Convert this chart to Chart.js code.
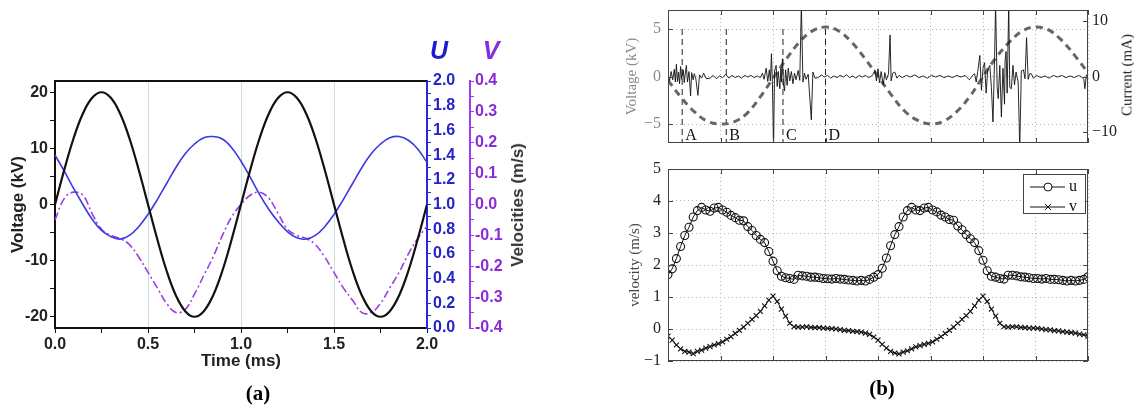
<!DOCTYPE html>
<html>
<head>
<meta charset="utf-8">
<script src="https://cdn.jsdelivr.net/npm/chart.js@4/dist/chart.umd.min.js"></script>
<style>
  body { margin: 0; background: #fff; width: 1134px; height: 409px; position: relative; overflow: hidden; }
  .box { position: absolute; }
  .box canvas { display: block; }
  .txt { position: absolute; white-space: nowrap; transform: translate(-50%, -50%); }
  .rot { transform: translate(-50%, -50%) rotate(-90deg); }
</style>
</head>
<body>
<div class="box" style="left:0;top:0"><canvas id="chartA" width="560" height="409"></canvas></div>
<div class="box" style="left:620px;top:-20px"><canvas id="chartTop" width="514" height="190"></canvas></div>
<div class="box" style="left:620px;top:150px"><canvas id="chartBottom" width="514" height="259"></canvas></div>

<div class="txt" style="left:439px;top:50px;font:italic bold 25px 'Liberation Sans',Arial,sans-serif;color:#1c1cd0">U</div>
<div class="txt" style="left:491px;top:50px;font:italic bold 25px 'Liberation Sans',Arial,sans-serif;color:#8a2be0">V</div>
<div class="txt rot" style="left:518px;top:205px;font:bold 17px 'Liberation Sans',Arial,sans-serif;color:#333">Velocities (m/s)</div>
<div class="txt" style="left:258px;top:393px;font:bold 21px 'Liberation Serif','Times New Roman',serif;color:#000">(a)</div>
<div class="txt" style="left:882px;top:388px;font:bold 21px 'Liberation Serif','Times New Roman',serif;color:#000">(b)</div>
<div class="txt rot" style="left:1127px;top:75px;font:15px 'Liberation Serif','Times New Roman',serif;color:#222">Current (mA)</div>

<script>
// ---------- panel (a): one sample every 0.05 ms, 0 .. 2 ms ----------
const stepA = 0.05;
const voltA = [0, 6.2, 11.8, 16.2, 19.0, 20.0, 19.0, 16.2, 11.8, 6.2,
  0, -6.2, -11.8, -16.2, -19.0, -20.0, -19.0, -16.2, -11.8, -6.2,
  0, 6.2, 11.8, 16.2, 19.0, 20.0, 19.0, 16.2, 11.8, 6.2,
  0, -6.2, -11.8, -16.2, -19.0, -20.0, -19.0, -16.2, -11.8, -6.2, 0];
const uA = [1.40, 1.27, 1.13, 1.00, 0.88, 0.79, 0.74, 0.72, 0.75, 0.82,
  0.92, 1.04, 1.17, 1.30, 1.41, 1.49, 1.54, 1.55, 1.53, 1.46,
  1.35, 1.22, 1.08, 0.96, 0.86, 0.78, 0.73, 0.72, 0.75, 0.82,
  0.92, 1.04, 1.17, 1.30, 1.41, 1.49, 1.54, 1.55, 1.52, 1.45, 1.34];
const vA = [-0.05, 0.02, 0.04, 0.03, -0.03, -0.08, -0.10, -0.11, -0.13, -0.17,
  -0.22, -0.27, -0.32, -0.35, -0.34, -0.29, -0.23, -0.17, -0.10, -0.04,
  0.00, 0.03, 0.04, 0.02, -0.03, -0.08, -0.10, -0.11, -0.13, -0.17,
  -0.22, -0.27, -0.31, -0.35, -0.35, -0.32, -0.27, -0.22, -0.16, -0.11, -0.07];
const timeTicksA = [0, 0.25, 0.5, 0.75, 1, 1.25, 1.5, 1.75, 2];
const voltTicksA = [-20, -15, -10, -5, 0, 5, 10, 15, 20];
const uTicks = [0, 0.1, 0.2, 0.3, 0.4, 0.5, 0.6, 0.7, 0.8, 0.9, 1.0, 1.1, 1.2, 1.3, 1.4, 1.5, 1.6, 1.7, 1.8, 1.9, 2.0];
const vTicks = [-0.4, -0.35, -0.3, -0.25, -0.2, -0.15, -0.1, -0.05, 0, 0.05, 0.1, 0.15, 0.2, 0.25, 0.3, 0.35, 0.4];

// ---------- panel (b) top: time in grid divisions 0 .. 8 ----------
const stepVolt = 0.25;
const voltB = [-0.4, -2.2, -3.7, -4.7, -5.0, -4.8, -3.9, -2.2, -0.2, 1.8, 3.6, 4.8, 5.2, 4.8, 3.6, 1.9,
  0.0, -1.9, -3.6, -4.6, -5.0, -4.7, -3.7, -2.1, 0.0, 2.0, 3.6, 4.8, 5.2, 4.9, 3.8, 2.2, 0.4];
const currT = [0.00, 0.03, 0.06, 0.09, 0.12, 0.14, 0.16, 0.18, 0.20, 0.22, 0.24, 0.26, 0.29, 0.31, 0.33, 0.35, 0.37, 0.40, 0.43, 0.45, 0.48, 0.50, 0.53, 0.57, 0.60, 0.64, 0.68, 0.73,
  0.80, 0.86, 0.92, 0.98, 1.04, 1.10, 1.16, 1.22, 1.28, 1.34, 1.40, 1.46, 1.52, 1.58, 1.64, 1.70, 1.76,
  1.80, 1.83, 1.87, 1.90, 1.93, 1.95, 1.97, 1.99, 2.01, 2.03, 2.06, 2.08, 2.10, 2.13, 2.15, 2.16, 2.18, 2.20, 2.22, 2.24, 2.27, 2.29, 2.32, 2.35, 2.38, 2.41, 2.44, 2.48, 2.51, 2.54, 2.57, 2.60, 2.63, 2.67, 2.73, 2.76, 2.80,
  2.86, 2.92, 2.98, 3.04, 3.10, 3.16, 3.22, 3.28, 3.34, 3.40, 3.46, 3.52, 3.58, 3.64, 3.70, 3.76, 3.82, 3.88,
  3.92, 3.94, 3.97, 4.00, 4.03, 4.06, 4.10, 4.13, 4.16, 4.20, 4.23, 4.25, 4.28, 4.32, 4.36, 4.40,
  4.46, 4.54, 4.62, 4.70, 4.78, 4.86, 4.94, 5.02, 5.10, 5.18, 5.26, 5.34, 5.42, 5.50, 5.58, 5.66, 5.74, 5.80,
  5.84, 5.87, 5.90, 5.94, 5.97, 6.00, 6.03, 6.06, 6.09, 6.13, 6.16, 6.19, 6.22, 6.24, 6.27, 6.29, 6.32, 6.35, 6.38, 6.41, 6.42, 6.44, 6.46, 6.49, 6.51, 6.54, 6.57, 6.60, 6.63, 6.67, 6.70, 6.73, 6.77, 6.80, 6.83, 6.86, 6.89, 6.92, 6.96,
  7.02, 7.10, 7.18, 7.26, 7.34, 7.42, 7.50, 7.58, 7.66, 7.74, 7.82, 7.88, 7.92, 7.94, 7.97, 8.00];
const currI = [0.3, -0.8, 0.9, -0.6, 1.3, -1.0, 2.2, -0.9, 0.8, -1.3, 1.8, -0.5, 1.2, -1.1, 0.6, 2.0, -1.0, 0.9, -3.5, 0.7, -0.6, 0.5, -0.4, -3.4, 0.3, -0.3, 0.6, -0.4,
  -0.3, 0.2, -0.4, 0.1, -0.2, 0.4, -0.3, 0.2, -0.2, 0.1, -0.3, 0.2, -0.1, 0.2, -0.2, 0.1, -0.2,
  0.6, -0.5, 1.5, -0.9, 1.2, -0.8, 4.1, -1.5, -13, 1.0, 2.0, -1.8, 0.9, -2.2, 1.4, -1.0, 3.2, -1.5, -2.6, 1.2, -1.6, 1.5, -0.8, 0.9, -1.3, 0.6, -0.6, 1.1, -0.7, 13, -1.0, 0.6, -0.5, 0.4, -7.8, 0.8, -0.3,
  -0.2, 0.3, -0.1, 0.2, -0.3, 0.1, -0.2, 0.2, -0.1, 0.3, -0.2, 0.1, -0.3, 0.2, -0.1, 0.2, -0.2, 0.1,
  0.6, 1.2, -0.8, 1.4, -1.1, 0.9, -1.5, 0.7, -0.6, 0.5, 7.5, -0.8, 0.6, 0.8, -0.3, 0.2,
  -0.2, 0.2, -0.1, 0.3, -0.2, 0.1, -0.3, 0.2, -0.1, 0.2, -0.2, 0.1, -0.2, 0.2, -0.1, 0.2, -0.6, 0.2,
  0.5, -1.0, 0.9, 3.8, -2.5, 1.5, 2.5, -3.0, 1.2, 2.0, -2.0, -8.2, 3.0, 13, -2.0, -4.0, 2.0, -7.3, 1.5, -5.0, 2.8, 4.5, -3.0, 13, -2.0, -2.2, 2.0, -1.5, 0.8, -1.0, -13, 1.0, 1.2, -0.4, 7.0, -0.5, 0.5, 0.5, -0.3,
  0.2, -0.2, 0.1, -0.3, 0.2, -0.1, 0.2, -0.2, 0.1, -0.2, 0.2, -0.1, -0.5, -2.2, 0.3, 0.0];
const markX = [0.27, 1.11, 2.19, 3.00];
const markNames = ['A', 'B', 'C', 'D'];
const divTicks = [0, 1, 2, 3, 4, 5, 6, 7, 8];
const voltTicksB = [-5, 0, 5];
const currTicks = [-10, 0, 10];

// ---------- panel (b) bottom: one sample every 0.08 division ----------
const stepB = 0.08;
const uB = [1.70, 1.88, 2.20, 2.58, 2.92, 3.18, 3.50, 3.70, 3.80, 3.72, 3.68, 3.78, 3.80, 3.72, 3.65, 3.55, 3.48, 3.40, 3.38, 3.20,
  3.08, 2.92, 2.80, 2.70, 2.42, 2.12, 1.82, 1.65, 1.60, 1.58, 1.55, 1.68, 1.66, 1.65, 1.62, 1.62, 1.60, 1.58, 1.57, 1.56,
  1.58, 1.56, 1.55, 1.53, 1.52, 1.50, 1.52, 1.50, 1.55, 1.62,
  1.70, 1.90, 2.22, 2.60, 2.95, 3.20, 3.50, 3.70, 3.80, 3.72, 3.70, 3.78, 3.80, 3.72, 3.66, 3.56, 3.50, 3.42, 3.40, 3.22,
  3.10, 2.95, 2.82, 2.70, 2.45, 2.15, 1.82, 1.65, 1.62, 1.58, 1.56, 1.68, 1.68, 1.66, 1.63, 1.62, 1.60, 1.58, 1.58, 1.56,
  1.58, 1.55, 1.55, 1.54, 1.52, 1.50, 1.52, 1.50, 1.52, 1.55, 1.63];
const vB = [-0.22, -0.35, -0.50, -0.62, -0.70, -0.72, -0.77, -0.70, -0.66, -0.60, -0.55, -0.50, -0.46, -0.40, -0.32, -0.24, -0.14, -0.04, 0.06, 0.18,
  0.30, 0.42, 0.55, 0.72, 0.90, 1.03, 0.86, 0.62, 0.40, 0.18, 0.07, 0.06, 0.06, 0.07, 0.05, 0.04, 0.04, 0.03, 0.02, 0.01,
  0.00, -0.02, -0.04, -0.05, -0.07, -0.08, -0.10, -0.13, -0.17, -0.25,
  -0.35, -0.48, -0.60, -0.70, -0.75, -0.78, -0.72, -0.68, -0.62, -0.56, -0.52, -0.48, -0.45, -0.40, -0.32, -0.24, -0.14, -0.04, 0.06, 0.18,
  0.30, 0.42, 0.55, 0.72, 0.90, 1.03, 0.86, 0.62, 0.40, 0.18, 0.07, 0.06, 0.07, 0.07, 0.05, 0.04, 0.03, 0.03, 0.02, 0.00,
  -0.02, -0.03, -0.05, -0.06, -0.08, -0.10, -0.11, -0.13, -0.16, -0.18, -0.22];
const velTicks = [-1, 0, 1, 2, 3, 4, 5];

// ---------- helpers ----------
const sans = "'Liberation Sans', Arial, sans-serif";
const serif = "'Liberation Serif', 'Times New Roman', serif";
const series = (vals, step) => vals.map((v, i) => ({ x: i * step, y: v }));
const pairs = (xs, ys) => xs.map((x, i) => ({ x: x, y: ys[i] }));
const fixTicks = list => (s => { s.ticks = list.map(v => ({ value: v })); });
const minus = v => String(v).replace('-', '\u2212');
const near = (v, step) => Math.abs(v / step - Math.round(v / step)) < 1e-6;

// top frame line of panel (a)
const frameA = {
  id: 'frameA',
  afterDraw(chart) {
    const { ctx, chartArea: a } = chart;
    ctx.save();
    ctx.strokeStyle = '#111';
    ctx.lineWidth = 2;
    ctx.beginPath();
    ctx.moveTo(a.left, a.top);
    ctx.lineTo(a.right, a.top);
    ctx.stroke();
    ctx.restore();
  }
};

// matlab style box with inward ticks
const boxFrame = {
  id: 'boxFrame',
  afterDraw(chart) {
    const { ctx, chartArea: a, scales } = chart;
    ctx.save();
    ctx.strokeStyle = '#444';
    ctx.lineWidth = 1;
    ctx.strokeRect(a.left + 0.5, a.top + 0.5, a.right - a.left - 1, a.bottom - a.top - 1);
    ctx.beginPath();
    scales.x.ticks.forEach(t => {
      const px = Math.round(scales.x.getPixelForValue(t.value)) + 0.5;
      ctx.moveTo(px, a.bottom); ctx.lineTo(px, a.bottom - 5);
      ctx.moveTo(px, a.top); ctx.lineTo(px, a.top + 5);
    });
    scales.y.ticks.forEach(t => {
      const py = Math.round(scales.y.getPixelForValue(t.value)) + 0.5;
      ctx.moveTo(a.left, py); ctx.lineTo(a.left + 5, py);
      if (!scales.yC) { ctx.moveTo(a.right, py); ctx.lineTo(a.right - 5, py); }
    });
    if (scales.yC) {
      scales.yC.ticks.forEach(t => {
        const py = Math.round(scales.yC.getPixelForValue(t.value)) + 0.5;
        ctx.moveTo(a.right, py); ctx.lineTo(a.right - 5, py);
      });
    }
    ctx.stroke();
    ctx.restore();
  }
};

// A, B, C, D letters next to the dashed markers
const markLabels = {
  id: 'markLabels',
  afterDatasetsDraw(chart) {
    const { ctx, scales } = chart;
    ctx.save();
    ctx.fillStyle = '#111';
    ctx.font = '16px ' + serif;
    ctx.textAlign = 'left';
    ctx.textBaseline = 'middle';
    markX.forEach((m, i) => {
      ctx.fillText(markNames[i], scales.x.getPixelForValue(m) + 3, scales.y.getPixelForValue(-6.2));
    });
    ctx.restore();
  }
};

// boxed legend in the upper right corner
const legendBox = {
  id: 'legendBox',
  afterDraw(chart) {
    const { ctx, chartArea: a } = chart;
    const w = 62, h = 39;
    const x0 = a.right - 65, y0 = a.top + 5;
    ctx.save();
    ctx.fillStyle = '#fff';
    ctx.fillRect(x0, y0, w, h);
    ctx.strokeStyle = '#444';
    ctx.lineWidth = 1;
    ctx.strokeRect(x0 + 0.5, y0 + 0.5, w, h);
    chart.data.datasets.forEach((ds, i) => {
      const y = y0 + 13 + i * 20;
      ctx.strokeStyle = '#111';
      ctx.beginPath();
      ctx.moveTo(x0 + 7, y); ctx.lineTo(x0 + 42, y);
      ctx.stroke();
      Chart.helpers.drawPoint(ctx, { pointStyle: ds.pointStyle, radius: 4, borderWidth: 1.2 }, x0 + 25, y);
      ctx.fillStyle = '#111';
      ctx.font = '16px ' + serif;
      ctx.textBaseline = 'middle';
      ctx.fillText(ds.label, x0 + 46, y);
    });
    ctx.restore();
  }
};

// ---------- panel (a) ----------
new Chart(document.getElementById('chartA'), {
  type: 'line',
  data: {
    datasets: [
      { label: 'Voltage', data: series(voltA, stepA), yAxisID: 'y', borderColor: '#111', borderWidth: 2.2, pointRadius: 0, tension: 0.4 },
      { label: 'U', data: series(uA, stepA), yAxisID: 'yU', borderColor: '#3a3ae2', borderWidth: 1.6, pointRadius: 0, tension: 0.4 },
      { label: 'V', data: series(vA, stepA), yAxisID: 'yV', borderColor: '#9b3ee6', borderWidth: 1.6, borderDash: [8, 3, 2, 3], pointRadius: 0, tension: 0.4 }
    ]
  },
  options: {
    responsive: false,
    animation: false,
    layout: { padding: { top: 81, left: 8, right: 50, bottom: 37 } },
    plugins: { legend: { display: false }, tooltip: { enabled: false } },
    scales: {
      x: {
        type: 'linear', min: 0, max: 2,
        afterBuildTicks: fixTicks(timeTicksA),
        afterFit: s => { s.height = 44; },
        ticks: { autoSkip: false, maxRotation: 0, padding: 2, color: '#222', font: { family: sans, size: 16, weight: 'bold' },
          callback: v => near(v, 0.5) ? v.toFixed(1) : '' },
        grid: { color: c => (c.tick && near(c.tick.value, 0.5) && c.tick.value > 0 && c.tick.value < 2) ? '#c9dfe0' : 'rgba(0,0,0,0)',
          tickColor: '#111', tickLength: 5, lineWidth: 1 },
        border: { color: '#111', width: 2 },
        title: { display: true, text: 'Time (ms)', color: '#222', padding: 0, font: { family: sans, size: 17, weight: 'bold' } }
      },
      y: {
        position: 'left', min: -22, max: 22,
        afterBuildTicks: fixTicks(voltTicksA),
        afterFit: s => { s.width = 47; },
        ticks: { autoSkip: false, padding: 2, color: '#222', font: { family: sans, size: 16, weight: 'bold' },
          callback: v => near(v, 10) ? String(v) : '' },
        grid: { drawOnChartArea: false, tickColor: '#111', tickLength: 5 },
        border: { color: '#111', width: 2 },
        title: { display: true, text: 'Voltage (kV)', color: '#222', padding: 0, font: { family: sans, size: 17, weight: 'bold' } }
      },
      yU: {
        position: 'right', min: 0, max: 2,
        afterBuildTicks: fixTicks(uTicks),
        afterFit: s => { s.width = 43; },
        ticks: { autoSkip: false, padding: 2, color: '#2424c8', font: { family: sans, size: 16, weight: 'bold' },
          callback: v => near(v, 0.2) ? v.toFixed(1) : '' },
        grid: { drawOnChartArea: false, tickColor: '#2a2ae0', tickLength: 4 },
        border: { color: '#2a2ae0', width: 2 }
      },
      yV: {
        position: 'right', min: -0.4, max: 0.4,
        afterBuildTicks: fixTicks(vTicks),
        afterFit: s => { s.width = 40; },
        ticks: { autoSkip: false, padding: 1, color: '#8a2bd8', font: { family: sans, size: 16, weight: 'bold' },
          callback: v => near(v, 0.1) ? v.toFixed(1) : '' },
        grid: { drawOnChartArea: false, tickColor: '#9b3ee6', tickLength: 4 },
        border: { color: '#9b3ee6', width: 2 }
      }
    }
  },
  plugins: [frameA]
});

// ---------- panel (b) top ----------
const markSets = markX.map(m => ({
  label: 'mark', data: [{ x: m, y: 5 }, { x: m, y: -7 }], yAxisID: 'y',
  borderColor: '#222', borderWidth: 1, borderDash: [6, 4], pointRadius: 0
}));

new Chart(document.getElementById('chartTop'), {
  type: 'line',
  data: {
    datasets: [
      { label: 'Current', data: pairs(currT, currI), yAxisID: 'yC', borderColor: '#111', borderWidth: 0.9, pointRadius: 0 },
      { label: 'Voltage', data: series(voltB, stepVolt), yAxisID: 'y', borderColor: '#666', borderWidth: 3, borderDash: [7, 5], pointRadius: 0, tension: 0.4 },
      ...markSets
    ]
  },
  options: {
    responsive: false,
    animation: false,
    layout: { padding: { top: 30, left: 3, right: 6, bottom: 27 } },
    plugins: { legend: { display: false }, tooltip: { enabled: false } },
    scales: {
      x: {
        type: 'linear', min: 0, max: 8,
        afterBuildTicks: fixTicks(divTicks),
        afterFit: s => { s.height = 0; },
        ticks: { display: false },
        grid: { color: '#b5b5b5', drawTicks: false },
        border: { display: false, dash: [1, 3] }
      },
      y: {
        position: 'left', min: -7, max: 7,
        afterBuildTicks: fixTicks(voltTicksB),
        afterFit: s => { s.width = 45; },
        ticks: { autoSkip: false, padding: 7, color: '#8a8a8a', font: { family: serif, size: 16 }, callback: v => minus(v) },
        grid: { color: '#b5b5b5', drawTicks: false },
        border: { display: false, dash: [1, 3] },
        title: { display: true, text: 'Voltage (kV)', color: '#8a8a8a', padding: 0, font: { family: serif, size: 15 } }
      },
      yC: {
        position: 'right', min: -12, max: 12,
        afterBuildTicks: fixTicks(currTicks),
        afterFit: s => { s.width = 40; },
        ticks: { autoSkip: false, padding: 4, color: '#222', font: { family: serif, size: 16 }, callback: v => minus(v) },
        grid: { drawOnChartArea: false, drawTicks: false },
        border: { display: false }
      }
    }
  },
  plugins: [boxFrame, markLabels]
});

// ---------- panel (b) bottom ----------
new Chart(document.getElementById('chartBottom'), {
  type: 'line',
  data: {
    datasets: [
      { label: 'u', data: series(uB, stepB), borderColor: '#111', borderWidth: 1, pointStyle: 'circle', pointRadius: 4,
        pointBackgroundColor: 'rgba(0,0,0,0)', pointBorderColor: '#111', pointBorderWidth: 1.1 },
      { label: 'v', data: series(vB, stepB), borderColor: '#111', borderWidth: 1, pointStyle: 'crossRot', pointRadius: 3.5,
        pointBorderColor: '#111', pointBorderWidth: 1.1 }
    ]
  },
  options: {
    responsive: false,
    animation: false,
    layout: { padding: { top: 19, left: 6, right: 46, bottom: 48 } },
    plugins: { legend: { display: false }, tooltip: { enabled: false } },
    scales: {
      x: {
        type: 'linear', min: 0, max: 8,
        afterBuildTicks: fixTicks(divTicks),
        afterFit: s => { s.height = 0; },
        ticks: { display: false },
        grid: { color: '#b5b5b5', drawTicks: false },
        border: { display: false, dash: [1, 3] }
      },
      y: {
        position: 'left', min: -1, max: 5,
        afterBuildTicks: fixTicks(velTicks),
        afterFit: s => { s.width = 42; },
        ticks: { autoSkip: false, padding: 7, color: '#222', font: { family: serif, size: 16 }, callback: v => minus(v) },
        grid: { color: '#b5b5b5', drawTicks: false },
        border: { display: false, dash: [1, 3] },
        title: { display: true, text: 'velocity (m/s)', color: '#444', padding: 0, font: { family: serif, size: 15 } }
      }
    }
  },
  plugins: [boxFrame, legendBox]
});
</script>
</body>
</html>
